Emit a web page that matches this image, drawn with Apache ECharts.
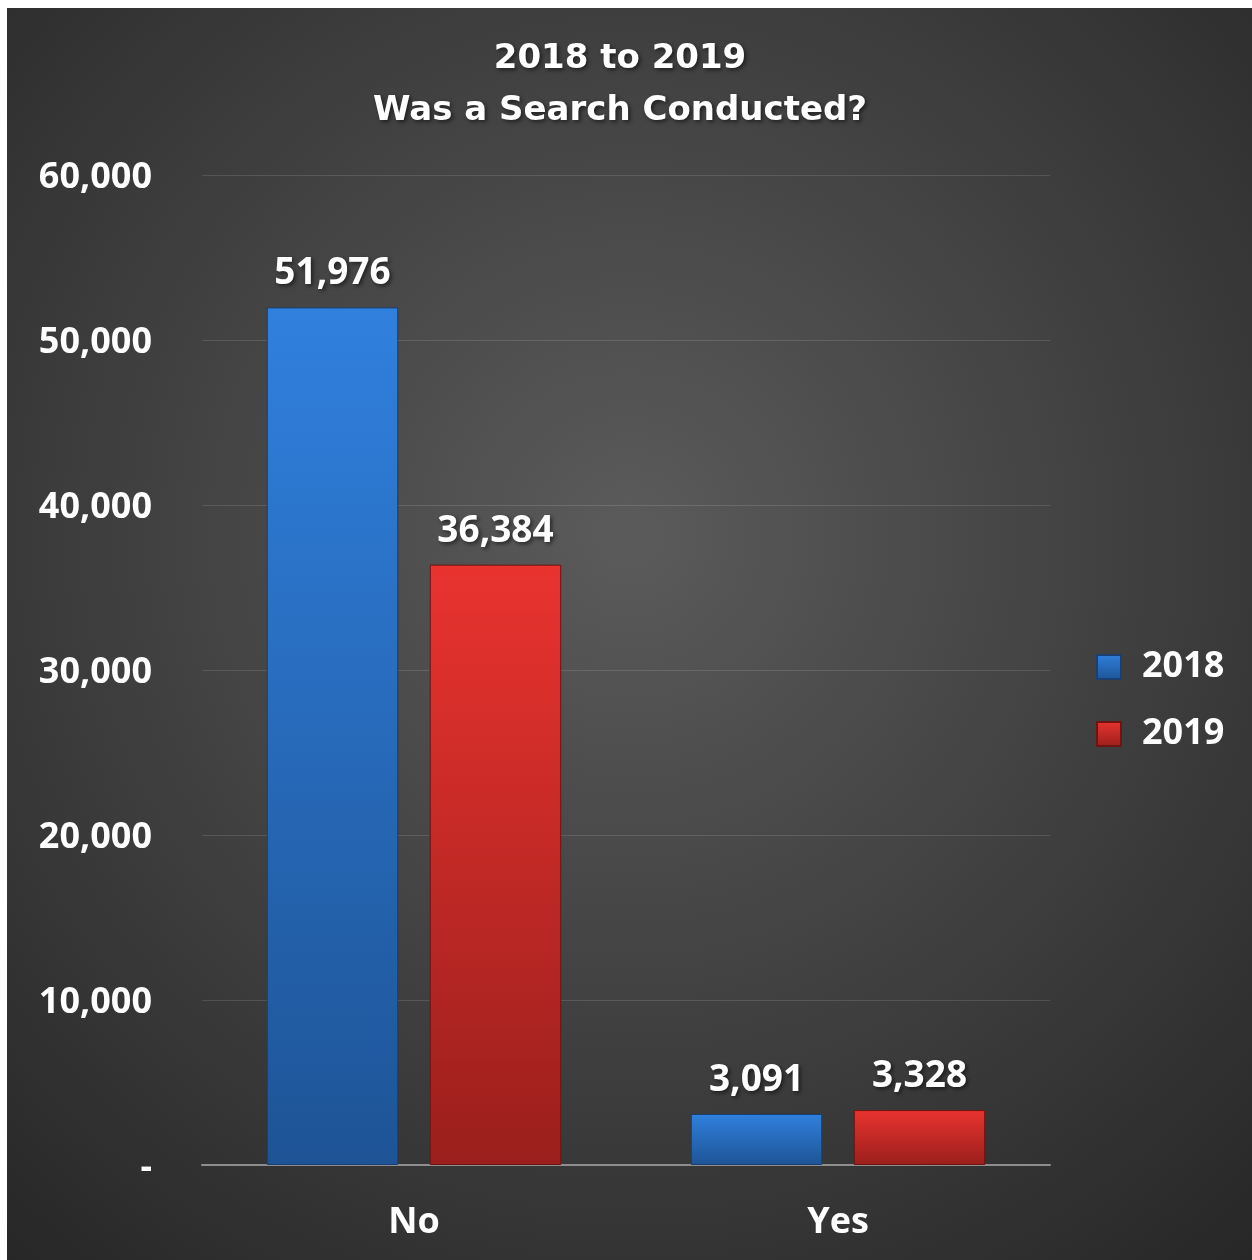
<!DOCTYPE html>
<html>
<head>
<meta charset="utf-8">
<title>2018 to 2019 - Was a Search Conducted?</title>
<script src="https://cdn.jsdelivr.net/npm/echarts@6/dist/echarts.min.js"></script>
<style>
  html, body { margin: 0; padding: 0; background: #ffffff; }
  #chart { position: absolute; left: 7px; top: 8px; width: 1245px; height: 1252px; }
</style>
</head>
<body>
<div id="chart"></div>
<script>
// Searches conducted, by year
const categories = ['No', 'Yes'];
const seriesNames = ['2018', '2019'];
const values2018 = [51976, 3091];
const values2019 = [36384, 3328];
const yTicks = [0, 10000, 20000, 30000, 40000, 50000, 60000];

const FONT = '"Open Sans", "Liberation Sans", sans-serif';
const TITLE_FONT = '"DejaVu Sans", "Open Sans", sans-serif';
const shadow = {
  textShadowColor: 'rgba(0,0,0,0.55)',
  textShadowBlur: 4,
  textShadowOffsetX: 2,
  textShadowOffsetY: 2
};

function fmt(v) {
  return v === 0 ? '-' : v.toLocaleString('en-US');
}

function vGrad(top, bottom) {
  return new echarts.graphic.LinearGradient(0, 0, 0, 1, [
    { offset: 0, color: top },
    { offset: 1, color: bottom }
  ]);
}

const chart = echarts.init(document.getElementById('chart'), null, { renderer: 'canvas' });

const barLabel = Object.assign({
  show: true,
  position: 'top',
  distance: 15,
  color: '#ffffff',
  fontFamily: FONT,
  fontWeight: 'bold',
  fontSize: 37,
  formatter: p => fmt(p.value)
}, shadow);

chart.setOption({
  animation: false,
  backgroundColor: {
    type: 'radial', x: 0.5, y: 0.42, r: 0.78,
    colorStops: [
      { offset: 0, color: '#5b5b5b' },
      { offset: 1, color: '#262626' }
    ]
  },
  title: {
    text: '2018 to 2019\nWas a Search Conducted?',
    left: 608,
    top: 20,
    textAlign: 'center',
    textStyle: Object.assign({
      color: '#ffffff',
      fontFamily: TITLE_FONT,
      fontWeight: 'bold',
      fontSize: 34,
      lineHeight: 52
    }, shadow)
  },
  legend: {
    orient: 'vertical',
    left: 1084,
    top: 634,
    itemWidth: 24,
    itemHeight: 24,
    itemGap: 27,
    icon: 'rect',
    data: seriesNames,
    textStyle: {
      color: '#ffffff',
      fontFamily: FONT,
      fontWeight: 'bold',
      fontSize: 36,
      lineHeight: 40,
      padding: [0, 0, 0, 16]
    }
  },
  grid: { left: 195, right: 202, top: 167, bottom: 95 },
  xAxis: {
    type: 'category',
    data: categories,
    axisTick: { show: false },
    axisLine: { lineStyle: { color: '#8e8e8e', width: 2 } },
    axisLabel: {
      margin: 40,
      color: '#ffffff',
      fontFamily: FONT,
      fontWeight: 'bold',
      fontSize: 36
    }
  },
  yAxis: {
    type: 'value',
    min: yTicks[0],
    max: yTicks[yTicks.length - 1],
    interval: yTicks[1] - yTicks[0],
    axisLine: { show: false },
    axisTick: { show: false },
    splitLine: { lineStyle: { color: 'rgba(255,255,255,0.12)', width: 1 } },
    axisLabel: {
      margin: 50,
      color: '#ffffff',
      fontFamily: FONT,
      fontWeight: 'bold',
      fontSize: 36,
      formatter: v => '{v|' + fmt(v) + '}',
      rich: {
        v: {
          color: '#ffffff',
          fontFamily: FONT,
          fontWeight: 'bold',
          fontSize: 36,
          padding: [6, 0, 0, 0]
        }
      }
    }
  },
  series: [
    {
      name: seriesNames[0],
      type: 'bar',
      data: values2018,
      barWidth: '31%',
      barGap: '24%',
      itemStyle: {
        color: vGrad('#3080de', '#1e5496'),
        borderColor: '#1a3f70',
        borderWidth: 1
      },
      label: barLabel
    },
    {
      name: seriesNames[1],
      type: 'bar',
      data: values2019,
      barWidth: '31%',
      itemStyle: {
        color: vGrad('#e9332f', '#9a1f1c'),
        borderColor: '#6e1411',
        borderWidth: 1
      },
      label: barLabel
    }
  ]
});
</script>
</body>
</html>
